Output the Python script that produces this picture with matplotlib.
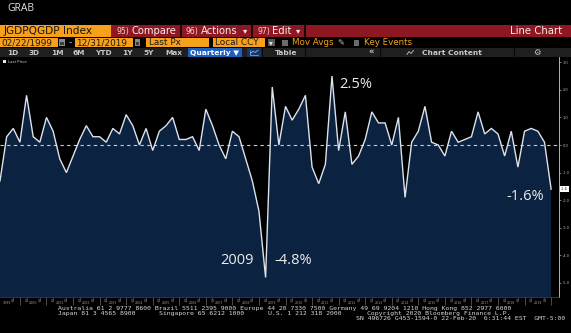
import numpy as np
import matplotlib
matplotlib.use("Agg")
import matplotlib.pyplot as plt
from matplotlib.patches import Rectangle
from matplotlib.lines import Line2D
from matplotlib.ticker import FixedLocator, FixedFormatter
import matplotlib.transforms as mtrans

# ---------------- data ----------------
# Japan GDP QoQ (%), quarterly 1999 Q1 .. 2019 Q4
values = [
    -1.3, 0.3, 0.6, 0.1,     # 1999
    1.8, 0.3, 0.1, 1.0,      # 2000
    0.5, -0.5, -1.0, -0.4,   # 2001
    0.2, 0.7, 0.3, 0.3,      # 2002
    0.1, 0.6, 0.4, 1.1,      # 2003
    0.7, 0.0, 0.6, -0.2,     # 2004
    0.5, 0.7, 1.0, 0.2,      # 2005
    0.2, 0.3, -0.2, 1.3,     # 2006
    0.7, 0.0, -0.5, 0.5,     # 2007
    0.3, -0.5, -1.3, -2.4,   # 2008
    -4.8, 2.1, 0.0, 1.4,     # 2009
    0.9, 1.3, 1.8, -0.8,     # 2010
    -1.4, -0.7, 2.5, -0.2,   # 2011
    1.2, -0.7, -0.4, 0.2,    # 2012
    1.2, 0.8, 0.8, 0.0,      # 2013
    1.0, -1.9, 0.1, 0.5,     # 2014
    1.4, 0.1, 0.0, -0.4,     # 2015
    0.5, 0.1, 0.2, 0.3,      # 2016
    1.2, 0.4, 0.6, 0.4,      # 2017
    -0.4, 0.5, -0.8, 0.5,    # 2018
    0.6, 0.5, 0.1, -1.6,     # 2019
]
years = list(range(1999, 2020))
quarter_names = ["Q1", "Q2", "Q3", "Q4"]
yticks = [3, 2, 1, 0, -1, -2, -3, -4, -5]
peak_label = "2.5%"
trough_year = "2009"
trough_label = "-4.8%"
last_label = "-1.6%"
last_box = "-1.6"

# ---------------- figure ----------------
W, H = 571, 333
fig = plt.figure(figsize=(W / 100, H / 100), dpi=100, facecolor="black")


def fx(x):
    return x / W


def fy(y):
    return 1 - y / H


def rect(x0, y0, x1, y1, color, z=1):
    fig.patches.append(Rectangle((fx(x0), fy(y1)), (x1 - x0) / W, (y1 - y0) / H,
                                 transform=fig.transFigure, facecolor=color,
                                 edgecolor="none", zorder=z))


def txt(x, y, s, size, color, ha="left", family="DejaVu Sans", weight="normal", va="baseline"):
    fig.text(fx(x), fy(y), s, fontsize=size, color=color, ha=ha, va=va,
             family=family, weight=weight, zorder=5)


def pline(xs, ys, color, lw=0.6):
    fig.lines.append(Line2D([fx(v) for v in xs], [fy(v) for v in ys],
                            transform=fig.transFigure, color=color, lw=lw, zorder=4))


ORANGE = "#f7a11a"
RED = "#8f1722"

# title
txt(7.3, 10.6, "GRAB", 7.5, "#e2e2e2", family="Open Sans")

# row 1
rect(0, 25, 111, 36.5, ORANGE)
rect(111, 25, 571, 36.5, RED)
for sx in (181, 252, 305):
    rect(sx - 0.7, 25, sx + 0.7, 36.5, "#1a0507", z=2)
txt(3.6, 34, "JGDPQGDP Index", 7.6, "#141414")
txt(116.5, 34, "95)", 5.6, "#f2d6d6")
txt(131, 34, "Compare", 7.2, "#f6eeee")
txt(185.7, 34, "96)", 5.6, "#f2d6d6")
txt(200.7, 34, "Actions", 7.2, "#f6eeee")
txt(244.7, 33.5, "▾", 6, "#f6eeee", ha="center")
txt(257.8, 34, "97)", 5.6, "#f2d6d6")
txt(272.4, 34, "Edit", 7.2, "#f6eeee")
txt(297.9, 33.5, "▾", 6, "#f6eeee", ha="center")
txt(562.6, 34, "Line Chart", 7.3, "#f6eeee", ha="right")

# row 2
rect(0, 38, 57.5, 46.5, ORANGE)
txt(1.5, 45.2, "02/22/1999", 6.4, "#1a1a1a")
rect(59.4, 39.5, 64.8, 45.5, "#8a8a8a")
rect(60.2, 41.5, 64.0, 44.8, "#3c3c3c")
txt(70, 44.8, "-", 6.4, "#d0d0d0", ha="center")
rect(74.7, 38, 133, 46.5, ORANGE)
txt(76.5, 45.2, "12/31/2019", 6.4, "#1a1a1a")
rect(134.7, 39.5, 140.2, 45.5, "#8a8a8a")
rect(135.5, 41.5, 139.4, 44.8, "#3c3c3c")
rect(145.7, 38, 209.4, 46.5, ORANGE)
txt(149.3, 45.2, "Last Px", 6.4, "#1a1a1a")
rect(213, 38, 265, 46.5, ORANGE)
txt(214.9, 45.2, "Local CCY", 6.4, "#1a1a1a")
rect(267.5, 38.5, 275, 46, "#5a5a5a")
txt(271.3, 44.8, "▾", 5.5, "#e0e0e0", ha="center")
rect(282, 39.8, 288, 45.5, "#6b6b6b")
txt(292.4, 45.2, "Mov Avgs", 6.3, ORANGE)
txt(337, 45.4, "✎", 6, "#bdbdbd")
rect(354, 39.8, 359.4, 45.5, "#6b6b6b")
txt(364, 45.2, "Key Events", 6.3, ORANGE)

# row 3
rect(0, 47.5, 571, 57, "#1f1f1f")
for lab, xx in [("1D", 7.3), ("3D", 28.4), ("1M", 51), ("6M", 72.8), ("YTD", 95.4),
                ("1Y", 122), ("5Y", 143.8), ("Max", 165)]:
    txt(xx, 55, lab, 5.3, "#c8c8c8", weight="bold")
rect(187.5, 48, 242.2, 56.5, "#1e5fc0")
txt(190, 55, "Quarterly ▼", 5.4, "#ffffff", weight="bold")
rect(246.5, 48, 261, 56.5, "#17365e")
pline([249.5, 249.5, 258], [49.8, 54.8, 54.8], "#7fb4ff", 0.5)
pline([250.5, 253, 255, 258], [53.5, 51.2, 52.5, 50.2], "#7fb4ff", 0.6)
for sx in (262, 305, 380.6, 514):
    rect(sx - 0.5, 47.5, sx + 0.5, 57, "#080808", z=2)
txt(275, 55, "Table", 5.4, "#c8c8c8", weight="bold")
txt(371.5, 55, "«", 6, "#c8c8c8", ha="center", weight="bold")
pline([407, 409, 411, 413.5], [54.5, 51.5, 53.5, 50.5], "#c8c8c8", 0.6)
txt(422.4, 55, "Chart Content", 5.4, "#c8c8c8", weight="bold")
txt(537, 55.3, "⚙", 6, "#c8c8c8", ha="center")

# ---------------- main chart ----------------
ZERO_PX, PX_PER = 145.0, 27.6
TOP, BOT, RIGHT = 57.0, 296.5, 559.0
QSTEP = 6.64
ax = fig.add_axes([0, fy(BOT), RIGHT / W, (BOT - TOP) / H])
ax.set_facecolor("black")
x = np.arange(len(values))
ax.fill_between(x, values, -20, color="#0b2240", lw=0, zorder=1)
ax.axhline(0, color="#c8ccd2", lw=0.8, ls=(0, (3, 3)), zorder=2)
ax.plot(x, values, color="#dde2ea", lw=1.0, zorder=3, solid_joinstyle="miter")
ax.set_xlim(0, RIGHT / QSTEP)
ax.set_ylim((ZERO_PX - BOT) / PX_PER, (ZERO_PX - TOP) / PX_PER)

for s in ("left", "top"):
    ax.spines[s].set_visible(False)
ax.spines["right"].set_color("#cfcfcf")
ax.spines["right"].set_linewidth(0.6)
ax.spines["bottom"].set_color("#4a4a4a")
ax.spines["bottom"].set_linewidth(0.5)

ax.yaxis.tick_right()
ax.set_yticks(yticks)
ax.set_yticklabels([f"{v:.1f}" for v in yticks])
ax.tick_params(axis="y", labelsize=2.6, length=1.5, width=0.4, pad=1,
               labelcolor="#b5b5b5", color="#cfcfcf")

# x axis: year separators (major), Q1/Q3 labels (minor), year labels
ax.set_xticks([4 * k + 3 for k in range(len(years))])
ax.set_xticklabels([])
ax.tick_params(axis="x", which="major", length=6, width=0.5, color="#6a6a6a")
minor_pos = [i for i in x if i % 4 in (0, 2) and i > 0]
ax.xaxis.set_minor_locator(FixedLocator(minor_pos))
ax.xaxis.set_minor_formatter(FixedFormatter([quarter_names[i % 4] for i in minor_pos]))
ax.tick_params(axis="x", which="minor", length=1.2, width=0.4, labelsize=2.2, pad=0.4,
               labelcolor="#9a9a9a", color="#6a6a6a")
btrans = mtrans.blended_transform_factory(ax.transData, ax.transAxes)
for k, yr in enumerate(years):
    ax.text(4 * k + 1, -0.026, str(yr), transform=btrans, ha="center", va="center",
            fontsize=2.3, color="#9a9a9a", clip_on=False)

# last value box on the axis
rtrans = mtrans.blended_transform_factory(ax.transAxes, ax.transData)
ax.text(1.004, values[-1], last_box, transform=rtrans, fontsize=2.5, color="#111111",
        va="center", ha="left", clip_on=False,
        bbox=dict(boxstyle="square,pad=0.35", fc="white", ec="none"))

# legend
rect(3, 59.8, 6, 62.6, "#e8e8e8", z=3)
txt(7.5, 62.6, "Last Price", 2.8, "#cfcfcf")

# annotations
ann = "#ececec"
txt(339, 88.3, peak_label, 10.5, ann, family="Open Sans")
txt(220, 264, trough_year, 10.5, ann, family="Open Sans")
txt(274, 264, trough_label, 10.5, ann, family="Open Sans")
txt(506.7, 200.5, last_label, 10.5, ann, family="Open Sans")

# ---------------- footer ----------------
MONO = "DejaVu Sans Mono"
fs, fc = 4.65, "#d5d5d5"
txt(57.7, 310, "Australia 61 2 9777 8600 Brazil 5511 2395 9000 Europe 44 20 7330 7500 "
               "Germany 49 69 9204 1210 Hong Kong 852 2977 6000", fs, fc, family=MONO)
txt(57.7, 315, "Japan 81 3 4565 8900", fs, fc, family=MONO)
txt(159.3, 315, "Singapore 65 6212 1000", fs, fc, family=MONO)
txt(267.7, 315, "U.S. 1 212 318 2000", fs, fc, family=MONO)
txt(367.3, 315, "Copyright 2020 Bloomberg Finance L.P.", fs, fc, family=MONO)
txt(356, 320, "SN 496726 G453-1594-0 22-Feb-20  6:31:44 EST  GMT-5:00", fs, fc, family=MONO)

fig.savefig("out.png", dpi=100, facecolor="black")
